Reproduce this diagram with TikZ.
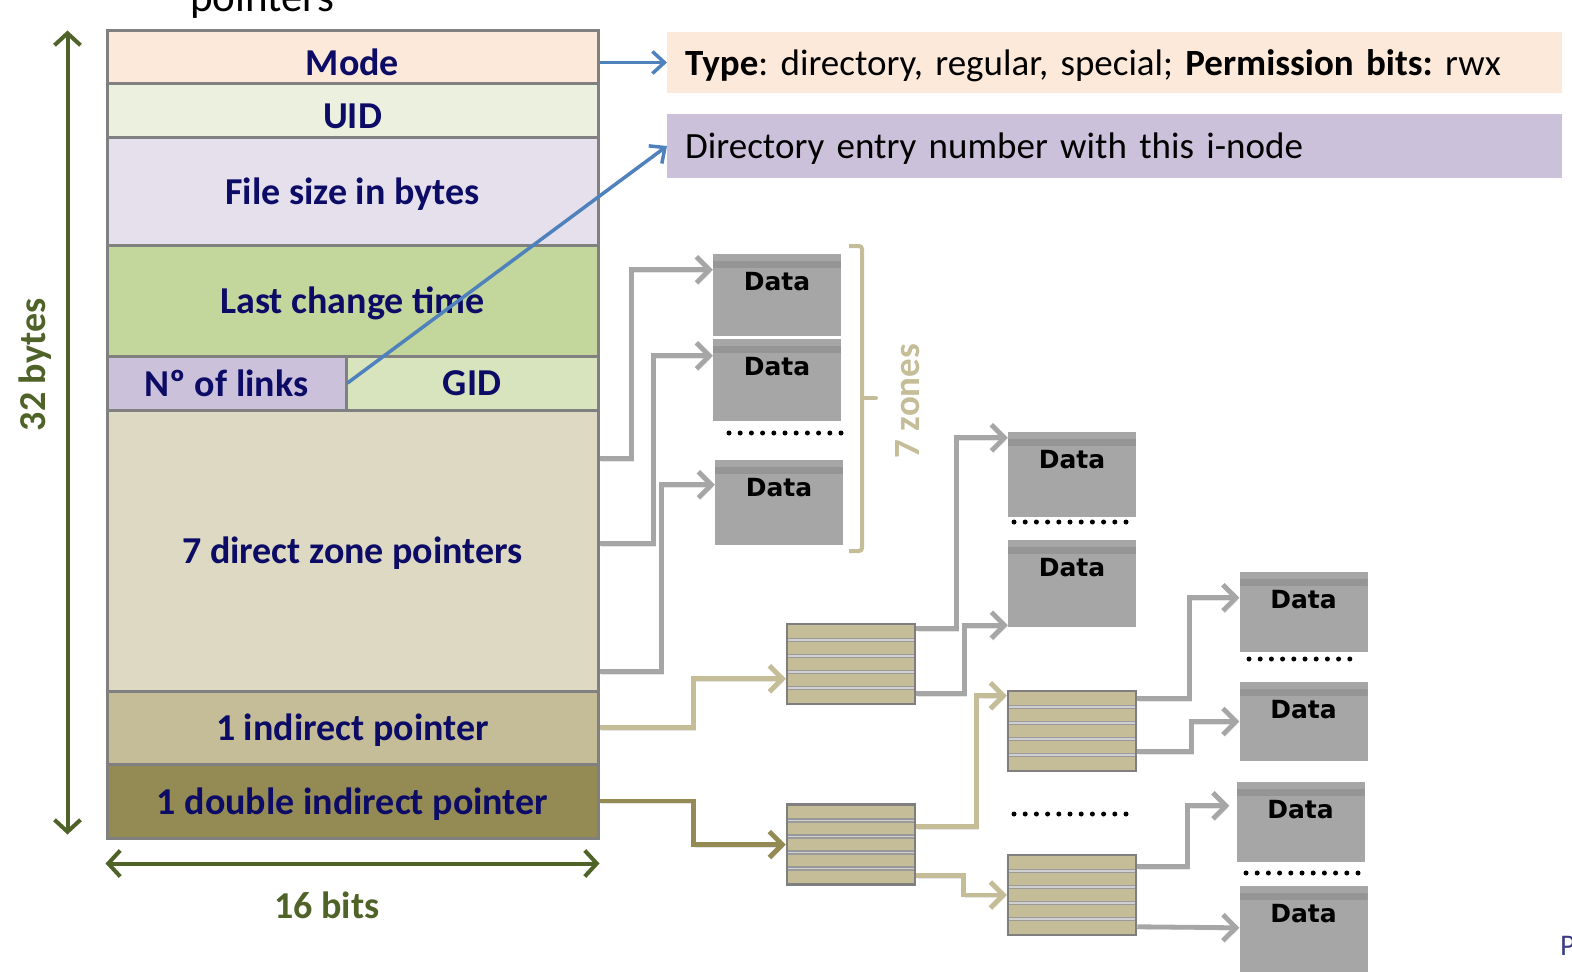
\documentclass[tikz,border=0pt]{standalone}
\usepackage{fontspec}
\setmainfont{Carlito}
\newfontfamily\datafont{DejaVu Sans}
\usetikzlibrary{arrows.meta}
\definecolor{navy}{HTML}{0C0C66}
\definecolor{cellBorder}{HTML}{808080}
\definecolor{cMode}{HTML}{FDE9D9}
\definecolor{cUID}{HTML}{EBF1DE}
\definecolor{cSize}{HTML}{E5E0EC}
\definecolor{cTime}{HTML}{C3D69B}
\definecolor{cLinks}{HTML}{CCC1DA}
\definecolor{cGID}{HTML}{D7E4BD}
\definecolor{cDirect}{HTML}{DDD9C3}
\definecolor{tanC}{HTML}{C4BD97}
\definecolor{oliveC}{HTML}{948A54}
\definecolor{blueA}{HTML}{4F81BD}
\definecolor{greenA}{HTML}{4F6228}
\definecolor{dataGray}{HTML}{A6A6A6}
\definecolor{dataBand}{HTML}{959595}
\definecolor{sepGray}{HTML}{9A9A9A}
\definecolor{sepLight}{HTML}{D0D0D0}
\definecolor{idxBorder}{HTML}{7F7F7F}
\begin{document}
\frenchspacing
\begin{tikzpicture}[x=1pt,y=-1pt,
  cell/.style={draw=cellBorder, line width=3pt, inner sep=0pt, text=navy, text depth=0pt,
    font=\fontsize{38}{44}\selectfont\bfseries},
  infobox/.style={anchor=west, inner xsep=18pt, inner ysep=0pt, text width=859pt,
    text depth=0pt, align=left, font=\fontsize{37}{44}\selectfont},
  datalabel/.style={anchor=north, inner sep=0pt, yshift=-18pt,
    font=\datafont\fontsize{25}{28}\selectfont\bfseries},
  databox/.style={fill=dataGray, inner sep=0pt, minimum width=128,
    path picture={\fill[dataBand] ([yshift=-7pt]path picture bounding box.north west)
      rectangle ([yshift=-14pt]path picture bounding box.north east);},
    label={[datalabel]north:Data}},
  idxbox/.style={fill=tanC, draw=idxBorder, line width=2.5pt, inner sep=0pt,
    minimum width=128, minimum height=80,
    path picture={\foreach \k in {1,...,4}{
      \draw[sepGray, line width=4.5pt] ([yshift={-16*\k*1pt}]path picture bounding box.north west)
        -- ([yshift={-16*\k*1pt}]path picture bounding box.north east);
      \draw[sepLight, line width=1.2pt] ([yshift={-16*\k*1pt}]path picture bounding box.north west)
        -- ([yshift={-16*\k*1pt}]path picture bounding box.north east);}}},
  conn/.style={line width=4.8pt, -{Straight Barb[length=13pt,width=26pt]},
    preaction={draw=black!10, transform canvas={shift={(1.5pt,-2.5pt)}}}},
  grayconn/.style={conn, draw=dataGray},
  tanconn/.style={conn, draw=tanC},
  oliveconn/.style={conn, draw=oliveC},
  blueconn/.style={line width=3.5pt, draw=blueA, -{Straight Barb[length=12pt,width=22pt]}},
  greenarrow/.style={draw=greenA, line width=4pt,
    {Straight Barb[length=12pt,width=26pt]}-{Straight Barb[length=12pt,width=26pt]}},
  greenlabel/.style={text=greenA, font=\fontsize{38}{44}\selectfont\bfseries, inner sep=0pt},
  dotrow/.style={draw=black, line width=5pt, line cap=round, dash pattern=on 0pt off 11.2pt}
]
\useasboundingbox (0,0) rectangle (1572,972);
\clip (0,0) rectangle (1572,972);

% cut-off title
\node[anchor=base west, inner sep=0pt, font=\fontsize{43}{46}\selectfont] (ptitle) at (190,11) {pointers};
\node[anchor=base west, inner sep=0pt, text=navy!80, font=\fontsize{30}{34}\selectfont] (pg) at (1560,955) {P};

% i-node table
\node[cell, fill=cMode, minimum width=491, minimum height=53, text height=38pt] (mode) at (352.5,56.5) {Mode};
\node[cell, fill=cUID, minimum width=491, minimum height=54, text height=36pt] (uid) at (352.5,110) {UID};
\node[cell, fill=cSize, minimum width=491, minimum height=108] (size) at (352.5,191) {File size in bytes};
\node[cell, fill=cTime, minimum width=491, minimum height=111] (time) at (352.5,300.5) {Last change time};
\node[cell, fill=cLinks, minimum width=239, minimum height=54] (links) at (226.5,383) {Nº of links};
\node[cell, fill=cGID, minimum width=252, minimum height=54] (gid) at (472,383) {GID};
\node[cell, fill=cDirect, minimum width=491, minimum height=281] (direct) at (352.5,550.5) {7 direct zone pointers};
\node[cell, fill=tanC, minimum width=491, minimum height=73] (ind) at (352.5,727.5) {1 indirect pointer};
\node[cell, fill=oliveC, minimum width=491, minimum height=74] (dbl) at (352.5,801) {1 double indirect pointer};

% dimension arrows
\draw[greenarrow] ([xshift=-38pt,yshift=-2pt]mode.north west) -- ([xshift=-38pt,yshift=5pt]dbl.south west);
\draw[greenarrow] ([yshift=-24pt]dbl.south west) -- ([yshift=-24pt]dbl.south east);
\node[greenlabel, rotate=90] (bytes) at (35,365) {32 bytes};
\node[greenlabel] (bits) at (327,905) {16 bits};

% info boxes
\node[infobox, fill=cMode, minimum height=61] (typebox) at (667,62.5)
  {\textbf{Type}: directory, regular, special; \textbf{Permission bits:} rwx};
\node[infobox, fill=cLinks, minimum height=64] (dirbox) at (667,146)
  {Directory entry number with this i-node};

% direct data zones
\node[databox, minimum height=82] (d1) at (777,295) {};
\node[databox, minimum height=82] (d2) at (777,380) {};
\node[databox, minimum height=85] (d3) at (779,502.5) {};
\draw[dotrow] (729,433) -- (842,433);
\draw[tanC, line width=4pt, rounded corners=3pt] (849,246) -- (862,246) -- (862,551) -- (849,551);
\draw[tanC, line width=4pt, line cap=round] (862,398) -- (876,398);
\node[rotate=90, inner sep=0pt, text=tanC, font=\fontsize{37}{42}\selectfont\bfseries] (zones) at (908,401) {7 zones};

% single indirect
\node[idxbox] (i1) at (851,664) {};
\node[databox, minimum height=85] (e1) at (1072,474.5) {};
\draw[dotrow] (1014,522) -- (1128,522);
\node[databox, minimum height=87] (e2) at (1072,583.5) {};

% double indirect
\node[idxbox] (i2) at (851,844.5) {};
\node[idxbox] (i3) at (1072,731) {};
\draw[dotrow] (1014,814) -- (1127,814);
\node[idxbox] (i4) at (1072,895) {};
\node[databox, minimum height=80] (f1) at (1303.5,612) {};
\draw[dotrow] (1249,659) -- (1360,659);
\node[databox, minimum height=79] (f2) at (1303.5,721.5) {};
\node[databox, minimum height=80] (f3) at (1300.5,822) {};
\draw[dotrow] (1246,873) -- (1358,873);
\node[databox, minimum height=86] (f4) at (1303.5,929) {};

% connectors
\draw[grayconn] ([yshift=-50pt]direct.north east) -- ++(32,0) |- ([yshift=-16pt]d1.north west);
\draw[grayconn] ([yshift=-135pt]direct.north east) -- ++(54,0) |- ([yshift=-17pt]d2.north west);
\draw[grayconn] ([yshift=-263pt]direct.north east) -- ++(62,0) |- ([yshift=-25pt]d3.north west);
\draw[tanconn] (ind.east) -- ++(94,0) |- ([yshift=-56pt]i1.north west);
\draw[oliveconn] (dbl.east) -- ++(94,0) |- (i2.west);
\draw[grayconn] ([yshift=-6pt]i1.north east) -- ++(40,0) |- ([yshift=-6pt]e1.north west);
\draw[grayconn] ([yshift=-71pt]i1.north east) -- ++(48,0) |- ([yshift=2pt]e2.south west);
\draw[tanconn] ([yshift=-23pt]i2.north east) -- ++(60,0) |- ([yshift=-6pt]i3.north west);
\draw[tanconn] ([yshift=-72pt]i2.north east) -- ++(47,0) |- (i4.west);
\draw[grayconn] ([yshift=-9pt]i3.north east) -- ++(52,0) |- ([yshift=-26pt]f1.north west);
\draw[grayconn] ([yshift=-62pt]i3.north east) -- ++(54,0) |- (f2.west);
\draw[grayconn] ([yshift=-13pt]i4.north east) -- ++(50,0) |- ([yshift=-24pt,xshift=-7pt]f3.north west);
\draw[grayconn] ([yshift=-73pt]i4.north east) -- ([yshift=-42pt]f4.north west);

% blue pointers
\draw[blueconn] (mode.east |- typebox.west) -- (typebox.west);
\draw[blueconn] (links.east) -- (dirbox.west);
\end{tikzpicture}
\end{document}
